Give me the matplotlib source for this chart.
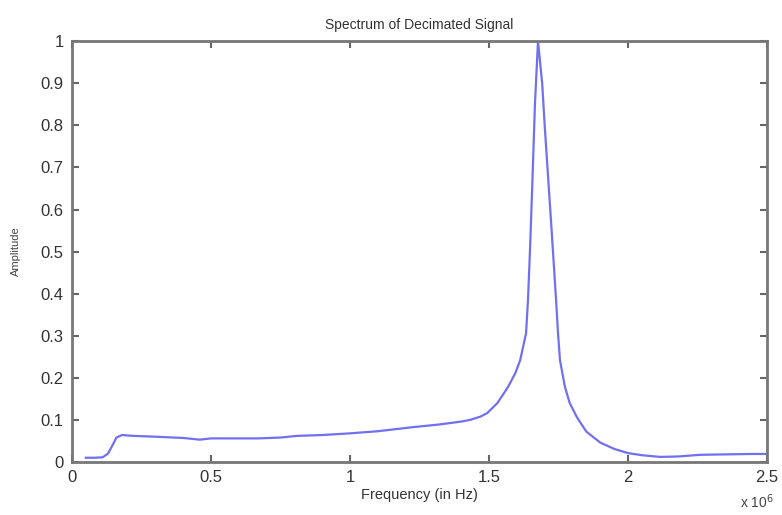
import matplotlib.pyplot as plt
import numpy as np

plt.rcParams['font.family'] = ['Liberation Sans', 'DejaVu Sans']

# frequency in units of 1e6 Hz, amplitude normalised
freq = [0.05, 0.08, 0.11, 0.13, 0.15, 0.16, 0.18, 0.22, 0.30, 0.40, 0.46, 0.50,
        0.60, 0.67, 0.75, 0.81, 0.90, 1.00, 1.10, 1.23, 1.32, 1.40, 1.432, 1.47,
        1.493, 1.53, 1.568, 1.595, 1.612, 1.633, 1.640, 1.647, 1.655, 1.665,
        1.676, 1.691, 1.700, 1.712, 1.725, 1.741, 1.748, 1.755, 1.773, 1.79,
        1.817, 1.85, 1.90, 1.95, 2.00, 2.05, 2.115, 2.18, 2.26, 2.35, 2.45, 2.50]
amp = [0.010, 0.010, 0.011, 0.020, 0.045, 0.058, 0.064, 0.062, 0.060, 0.057, 0.053, 0.056,
       0.056, 0.056, 0.058, 0.062, 0.064, 0.068, 0.073, 0.083, 0.089, 0.096, 0.100, 0.108,
       0.116, 0.140, 0.178, 0.212, 0.242, 0.306, 0.385, 0.500, 0.650, 0.850,
       1.000, 0.900, 0.800, 0.680, 0.550, 0.385, 0.306, 0.242, 0.178, 0.140,
       0.105, 0.072, 0.046, 0.031, 0.021, 0.016, 0.012, 0.013, 0.017, 0.018, 0.019, 0.019]

xticks = [0, 0.5, 1, 1.5, 2, 2.5]
yticks = [0, 0.1, 0.2, 0.3, 0.4, 0.5, 0.6, 0.7, 0.8, 0.9, 1]

fig = plt.figure(figsize=(7.82, 5.15), dpi=100)
ax = fig.add_axes([0.092, 0.103, 0.889, 0.817])
ax.plot(freq, amp, color='#7070f0', linewidth=1.6)

ax.set_xlim(0, 2.5)
ax.set_ylim(0, 1)
ax.set_xticks(xticks)
ax.set_yticks(yticks)
ax.set_xticklabels(['%g' % t for t in xticks])
ax.set_yticklabels(['%g' % t for t in yticks])
ax.tick_params(direction='in', top=True, right=True, length=5, width=1.5,
               color='#666666', labelsize=12, labelcolor='#333333', pad=6)
for s in ax.spines.values():
    s.set_color('#777777')
    s.set_linewidth(2)

ax.set_title('Spectrum of Decimated Signal', fontsize=10, color='#333333', pad=9)
ax.set_xlabel('Frequency (in Hz)', fontsize=10.5, color='#333333', labelpad=2)
ax.set_ylabel('Amplitude', fontsize=8, color='#444444', labelpad=14)
ax.text(0.985, -0.095, r'x 10$^{6}$', transform=ax.transAxes, fontsize=10,
        color='#444444', ha='center', va='center')

fig.savefig('out.png', dpi=100)
